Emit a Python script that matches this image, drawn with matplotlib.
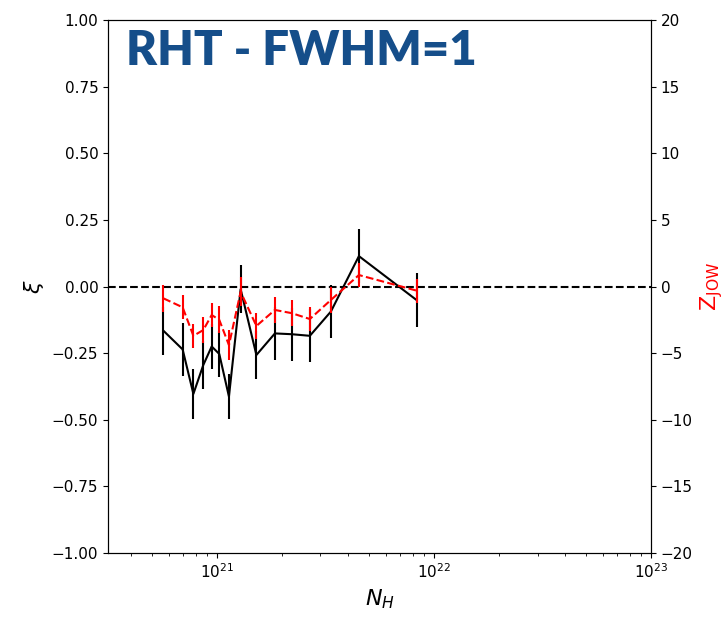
import matplotlib
matplotlib.use('Agg')
import matplotlib.pyplot as plt
import numpy as np

# column density bins
nh = [5.67e20, 6.95e20, 7.79e20, 8.65e20, 9.46e20, 1.025e21, 1.136e21, 1.286e21,
      1.52e21, 1.85e21, 2.21e21, 2.68e21, 3.35e21, 4.51e21, 8.32e21]

# relative orientation parameter xi and its error
xi = [-0.166, -0.236, -0.403, -0.295, -0.225, -0.253, -0.413, -0.01,
      -0.257, -0.176, -0.179, -0.185, -0.094, 0.114, -0.051]
xi_err = [0.09, 0.10, 0.095, 0.09, 0.085, 0.085, 0.085, 0.09,
          0.09, 0.10, 0.10, 0.10, 0.10, 0.10, 0.10]

# projected Rayleigh statistic Z_JOW and its error
zjow = [-0.89, -1.56, -3.7, -3.27, -2.14, -2.5, -4.4, -0.4,
        -2.96, -1.76, -2.0, -2.44, -1.01, 0.86, -0.31]
zjow_err = [1.0, 0.9, 0.9, 1.0, 0.9, 1.0, 1.1, 1.1,
            1.0, 0.95, 0.95, 0.9, 1.0, 0.9, 0.9]

fig = plt.figure(figsize=(7.27, 6.17), dpi=100, facecolor='w')
ax = fig.add_axes([0.1486, 0.1037, 0.7469, 0.8639])

ax.errorbar(nh, xi, yerr=xi_err, color='k', lw=1.5, elinewidth=1.5)
ax.axhline(0, color='k', ls='--', lw=1.5)
ax.set_xscale('log')
ax.set_xlim(3.15e20, 1e23)
ax.set_ylim(-1, 1)
ax.set_yticks(np.arange(-1, 1.01, 0.25))
ax.set_xlabel(r'$N_H$', fontsize=16)
ax.set_ylabel(r'$\xi$', fontsize=16)
ax.tick_params(labelsize=11)

ax2 = ax.twinx()
ax2.errorbar(nh, zjow, yerr=zjow_err, color='r', ls='--', lw=1.5, elinewidth=1.5)
ax2.set_ylim(-20, 20)
ax2.set_yticks(np.arange(-20, 21, 5))
ax2.set_ylabel(r'$\mathrm{Z_{JOW}}$', color='r', fontsize=16)
ax2.tick_params(labelsize=11)

fig.text(0.173, 0.918, 'RHT - FWHM=1', fontsize=34, fontweight='heavy',
         color='#154e8a', family='Lato', va='center', ha='left')

plt.savefig('out.png', dpi=100)
